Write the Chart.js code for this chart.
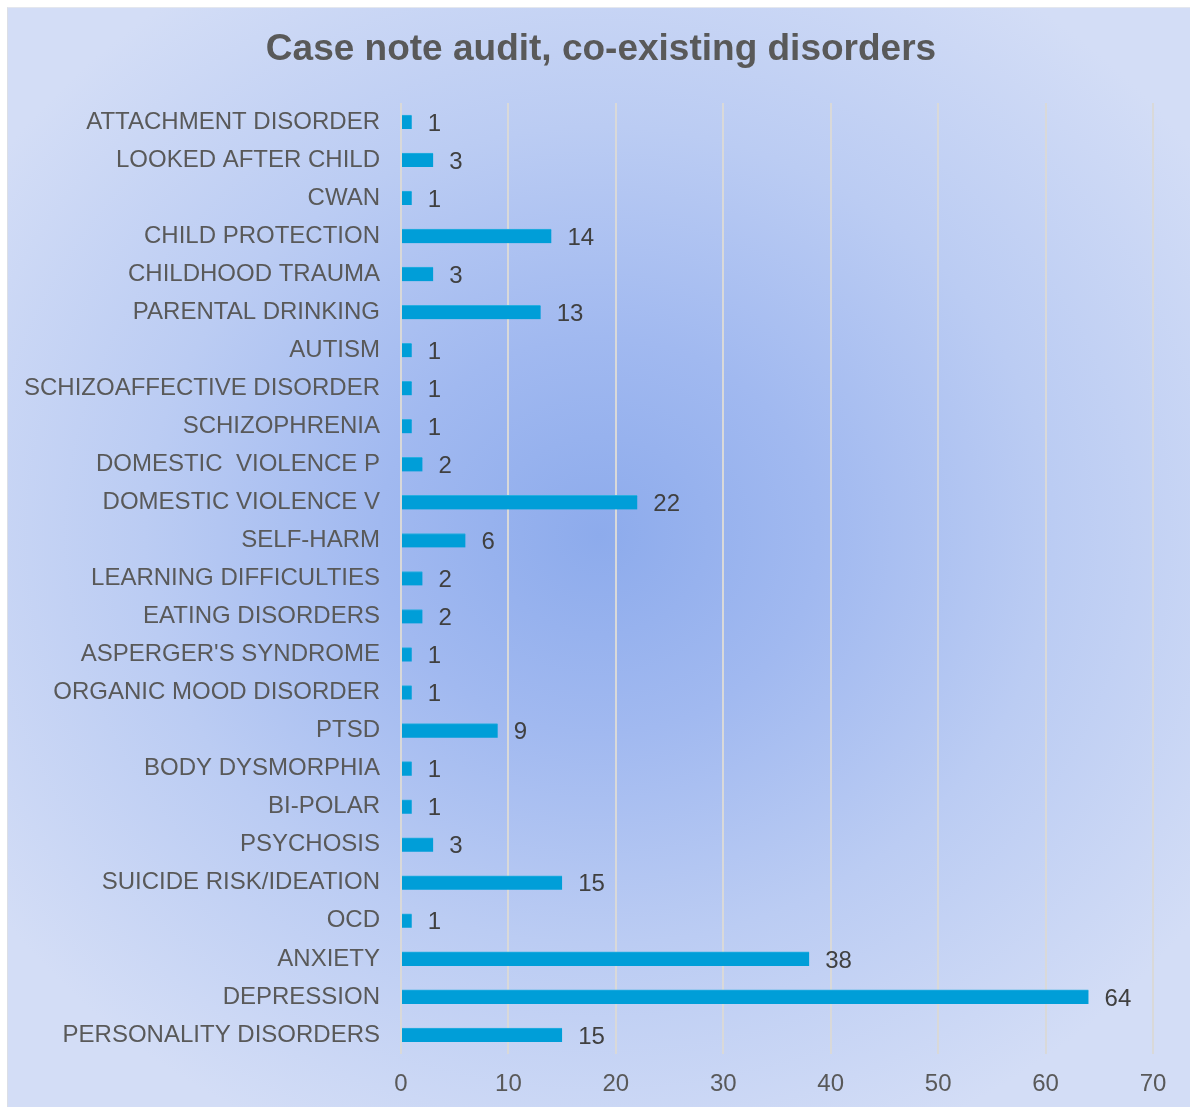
<!DOCTYPE html>
<html>
<head>
<meta charset="utf-8">
<script src="https://cdn.jsdelivr.net/npm/chart.js@4/dist/chart.umd.min.js"></script>
<style>
  html, body { margin: 0; padding: 0; background: #ffffff; }
  body { width: 1190px; height: 1107px; position: relative; overflow: hidden; }
  #panel {
    position: absolute; left: 7px; top: 7px; width: 1183px; height: 1100px;
    border-left: 1px solid #dcdfe6; border-top: 1px solid #e4e7ee;
    box-sizing: border-box;
    background: radial-gradient(ellipse 62% 60% at 50% 48%, #8dabec 0%, #a1b9f0 30%, #bbccf3 62%, #d3ddf6 100%);
  }
  #wrap { position: absolute; left: 0; top: 0; width: 1190px; height: 1107px; }
</style>
</head>
<body>
<div id="panel"></div>
<div id="wrap"><canvas id="chart" width="1190" height="1107"></canvas></div>
<script>
const categories = [
  "ATTACHMENT DISORDER",
  "LOOKED AFTER CHILD",
  "CWAN",
  "CHILD PROTECTION",
  "CHILDHOOD TRAUMA",
  "PARENTAL DRINKING",
  "AUTISM",
  "SCHIZOAFFECTIVE DISORDER",
  "SCHIZOPHRENIA",
  "DOMESTIC  VIOLENCE P",
  "DOMESTIC VIOLENCE V",
  "SELF-HARM",
  "LEARNING DIFFICULTIES",
  "EATING DISORDERS",
  "ASPERGER'S SYNDROME",
  "ORGANIC MOOD DISORDER",
  "PTSD",
  "BODY DYSMORPHIA",
  "BI-POLAR",
  "PSYCHOSIS",
  "SUICIDE RISK/IDEATION",
  "OCD",
  "ANXIETY",
  "DEPRESSION",
  "PERSONALITY DISORDERS"
];
const caseCounts = [1, 3, 1, 14, 3, 13, 1, 1, 1, 2, 22, 6, 2, 2, 1, 1, 9, 1, 1, 3, 15, 1, 38, 64, 15];
const axisMin = 0;
const axisMax = 70;
const axisStep = 10;
const chartTitle = "Case note audit, co-existing disorders";

const FONT = "'Liberation Sans', Arial, Helvetica, sans-serif";

// Heading centred over the panel, above the plot
const heading = {
  id: 'heading',
  afterDraw(chart) {
    const ctx = chart.ctx;
    ctx.save();
    ctx.font = "bold 37px " + FONT;
    ctx.fillStyle = "#595959";
    ctx.textAlign = "center";
    ctx.textBaseline = "middle";
    ctx.fillText(chartTitle, 601, 50);
    ctx.restore();
  }
};

// Writes each count just past the end of its bar
const valueLabels = {
  id: 'valueLabels',
  afterDatasetsDraw(chart) {
    const ctx = chart.ctx;
    const meta = chart.getDatasetMeta(0);
    ctx.save();
    ctx.font = "24px " + FONT;
    ctx.fillStyle = "#404040";
    ctx.textAlign = "left";
    ctx.textBaseline = "middle";
    meta.data.forEach((bar, i) => {
      ctx.fillText(String(chart.data.datasets[0].data[i]), bar.x + 16, bar.y + 2);
    });
    ctx.restore();
  }
};

new Chart(document.getElementById('chart'), {
  type: 'bar',
  data: {
    labels: categories,
    datasets: [{
      data: caseCounts,
      backgroundColor: '#009ed8',
      borderColor: '#2aaee0',
      borderWidth: { top: 1, bottom: 0, left: 0, right: 0 },
      borderSkipped: false,
      barThickness: 14
    }]
  },
  options: {
    indexAxis: 'y',
    responsive: false,
    animation: false,
    devicePixelRatio: 1,
    layout: { padding: { left: 10, right: 37, top: 103, bottom: 0 } },
    plugins: {
      legend: { display: false },
      tooltip: { enabled: false },
      title: { display: false }
    },
    scales: {
      x: {
        min: axisMin,
        max: axisMax,
        ticks: {
          stepSize: axisStep,
          color: '#595959',
          font: { family: FONT, size: 24 },
          padding: 16
        },
        grid: { color: '#d9d9d9', lineWidth: 2, drawTicks: false },
        border: { display: false },
        afterFit(scale) { scale.height = 53; }
      },
      y: {
        ticks: {
          color: '#595959',
          font: { family: FONT, size: 24 },
          padding: 21,
          autoSkip: false
        },
        grid: { display: false, drawTicks: false },
        border: { display: false },
        afterFit(scale) { scale.width = 391; }
      }
    }
  },
  plugins: [valueLabels, heading]
});
</script>
</body>
</html>
